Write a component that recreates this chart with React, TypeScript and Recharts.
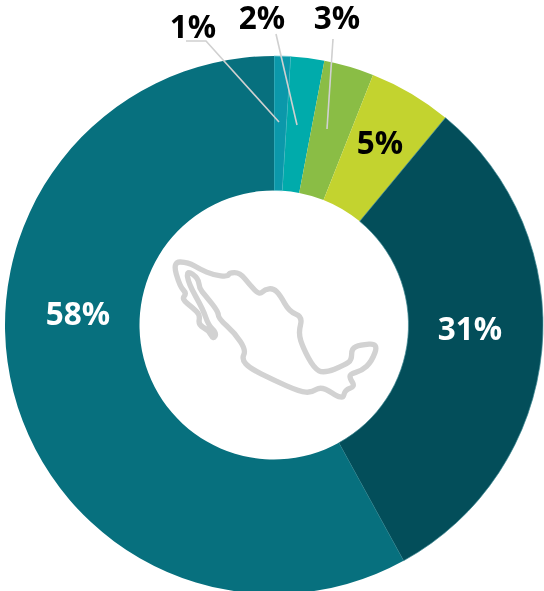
import React from "react"
import { Customized, Cell, Pie, PieChart } from "recharts"

const categories = ["a", "b", "c", "d", "e", "f"]
const shares = [1, 2, 3, 5, 31, 58]
const sliceColors = ["#0b98aa", "#00abab", "#8abd45", "#c3d32f", "#034e5a", "#07707e"]
const sliceEdges = ["#6cc4cf", "none", "none", "none", "#3d8791", "none"]
const labelColors = ["#000000", "#000000", "#000000", "#000000", "#ffffff", "#ffffff"]

// label centres, same order as the slices
const labelSpots = [
  [193, 25],
  [262, 16],
  [337, 16],
  [380, 141],
  [470, 327],
  [78, 312],
]

const leaderLines = [
  "M186 41 L206 41 L279 122",
  "M276 34 L297 125",
  "M333 39 L327 129",
]

// outline of Mexico, in a 3x grid
const mapPoints = [
  [38, 35], [85, 37], [120, 58], [160, 75], [205, 80], [207, 68], [240, 68], [270, 105], [298, 135],
  [315, 118], [340, 115], [360, 135], [388, 185], [428, 200], [415, 250], [430, 295], [462, 355],
  [492, 370], [555, 345], [575, 330], [575, 295], [600, 285], [655, 280], [635, 335], [605, 362],
  [570, 372], [570, 385], [585, 410], [555, 420], [548, 450], [485, 408], [455, 428], [420, 425],
  [340, 390], [270, 355], [245, 328], [258, 300], [225, 250], [175, 205], [175, 185], [135, 135],
  [118, 115], [115, 85], [80, 60], [85, 100], [130, 180], [145, 225], [170, 250], [160, 268],
  [145, 240], [115, 225], [120, 195], [100, 175], [65, 147], [80, 130], [60, 110],
]

// rounds the corners by curving through the midpoint of each edge
const smoothPath = (pts: number[][]) => {
  const mid = (a: number[], b: number[]) => [(a[0] + b[0]) / 2, (a[1] + b[1]) / 2]
  const start = mid(pts[pts.length - 1], pts[0])
  let d = `M${start[0]} ${start[1]}`
  pts.forEach((p, i) => {
    const m = mid(p, pts[(i + 1) % pts.length])
    d += ` Q${p[0]} ${p[1]} ${m[0]} ${m[1]}`
  })
  return d + " Z"
}

const tableData = categories.map((name, i) => ({ name, value: shares[i] }))

const renderLabel = ({ index }: any) => (
  <g key={categories[index]}>
    {leaderLines[index] && <path d={leaderLines[index]} fill="none" stroke="#d0d0d0" strokeWidth={1.6} />}
    <text
      x={labelSpots[index][0]}
      y={labelSpots[index][1]}
      textAnchor="middle"
      dominantBaseline="central"
      fill={labelColors[index]}
      fontFamily="'Open Sans'"
      fontWeight={700}
      fontSize={31.5}
    >
      {`${shares[index]}%`}
    </text>
  </g>
)

const MapOutline = () => (
  <path
    d={smoothPath(mapPoints)}
    transform="translate(160 250) scale(0.3333)"
    fill="none"
    stroke="#d2d2d2"
    strokeWidth={16}
    strokeLinejoin="round"
  />
)

export default function App() {
  return (
    <div style={{ position: "fixed", left: 0, top: 0, width: 544, height: 591, overflow: "hidden" }}>
      <PieChart width={544} height={591} margin={{ top: 0, right: 0, bottom: 0, left: 0 }}>
        <Pie
          data={tableData}
          dataKey="value"
          cx={274}
          cy={325}
          innerRadius={134.5}
          outerRadius={269}
          startAngle={90}
          endAngle={-270}
          labelLine={false}
          label={renderLabel}
          isAnimationActive={false}
        >
          {categories.map((name, i) => (
            <Cell key={name} fill={sliceColors[i]} stroke={sliceEdges[i]} strokeWidth={0.7} />
          ))}
        </Pie>
        <Customized component={MapOutline} />
      </PieChart>
    </div>
  )
}
